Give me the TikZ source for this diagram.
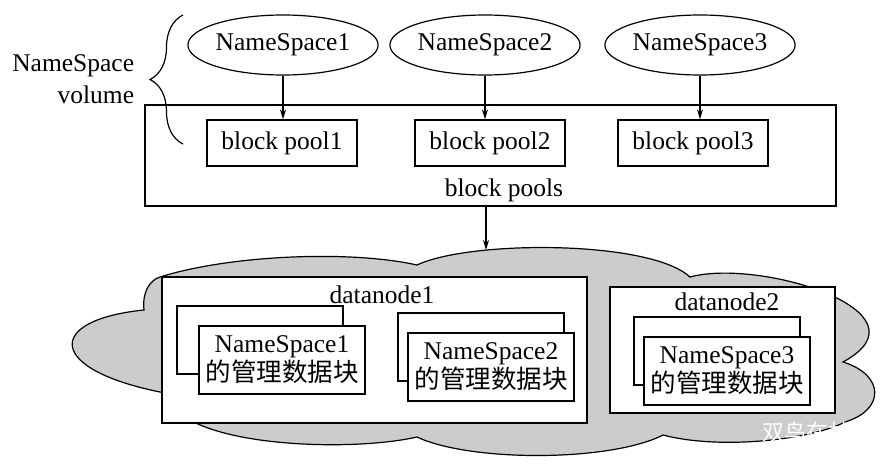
\documentclass[tikz,border=0pt]{standalone}
\usepackage{fontspec}
\setmainfont{Liberation Serif}
\newfontfamily\cjk{Noto Sans CJK SC}
\usetikzlibrary{shapes.geometric,arrows.meta,decorations.pathreplacing}

\begin{document}
\begin{tikzpicture}[x=1pt,y=-1pt,line width=1.2pt,
    font=\fontsize{25.5}{29}\selectfont,
    arr/.style={-{Stealth[length=10pt,width=6pt]}},
    nsell/.style={ellipse,draw,minimum width=174pt,minimum height=60pt,inner sep=0pt},
    poolbox/.style={draw,minimum width=150pt,minimum height=46pt,inner sep=0pt},
    blkbox/.style={draw,fill=white,minimum width=166pt,minimum height=68pt,inner sep=0pt,align=center}]
  \useasboundingbox (0,0) rectangle (880,471);
  % namespaces and block pools
  \node[draw,minimum width=691pt,minimum height=101pt] (pools) at (490.5,155.5) {};
  \node (poolslabel) at (504,190) {block pools};
  \foreach \i/\x/\px in {1/283/282,2/485/490,3/700/693} {
    \node[nsell] (ns\i) at (\x,45) {NameSpace\i};
    \node[poolbox] (bp\i) at (\px,143) {block pool\i};
    \draw[arr] (ns\i.south) -- (ns\i.south |- bp\i.north);
  }
  \draw[decorate,decoration={brace,amplitude=33pt}] (183,144) -- (183,15);
  \node[align=right,anchor=east,font=\fontsize{25.5}{32}\selectfont] (vol) at (138,79) {NameSpace\\volume};
  % cloud of datanodes
  \draw[fill=black!20] (160,277) .. controls (230,255) and (350,250) .. (417,265)
    .. controls (470,240) and (650,240) .. (690,277)
    .. controls (760,258) and (935,312) .. (843,362)
    .. controls (885,375) and (885,410) .. (845,422)
    .. controls (810,440) and (720,450) .. (663,435)
    .. controls (610,462) and (470,462) .. (417,437)
    .. controls (360,450) and (240,448) .. (190,420)
    -- (165,393)
    .. controls (45,370) and (45,320) .. (144,310)
    .. controls (142,292) and (150,280) .. cycle;
  \coordinate (cloudtop) at (486,250);
  \draw[arr] (pools.south -| cloudtop) -- (cloudtop);
  \node[draw,fill=white,minimum width=425pt,minimum height=146pt] (dn1) at (374.5,350) {};
  \node (dn1label) at (382,295) {datanode1};
  \node[draw,fill=white,minimum width=225pt,minimum height=126pt] (dn2) at (722.5,350) {};
  \node (dn2label) at (727,302) {datanode2};
  \foreach \i/\x/\y/\dx in {1/282/360/22,2/491/367/10,3/727/371/10} {
    \node[blkbox] (back\i) at (\x-\dx,\y-20) {};
    \node[blkbox] (blk\i) at (\x,\y) {NameSpace\i\\{\cjk 的管理数据块}};
  }
  \node[text=white,font=\cjk\fontsize{22}{22}\selectfont] (mark) at (806,432) {双鸟在林};
\end{tikzpicture}
\end{document}
